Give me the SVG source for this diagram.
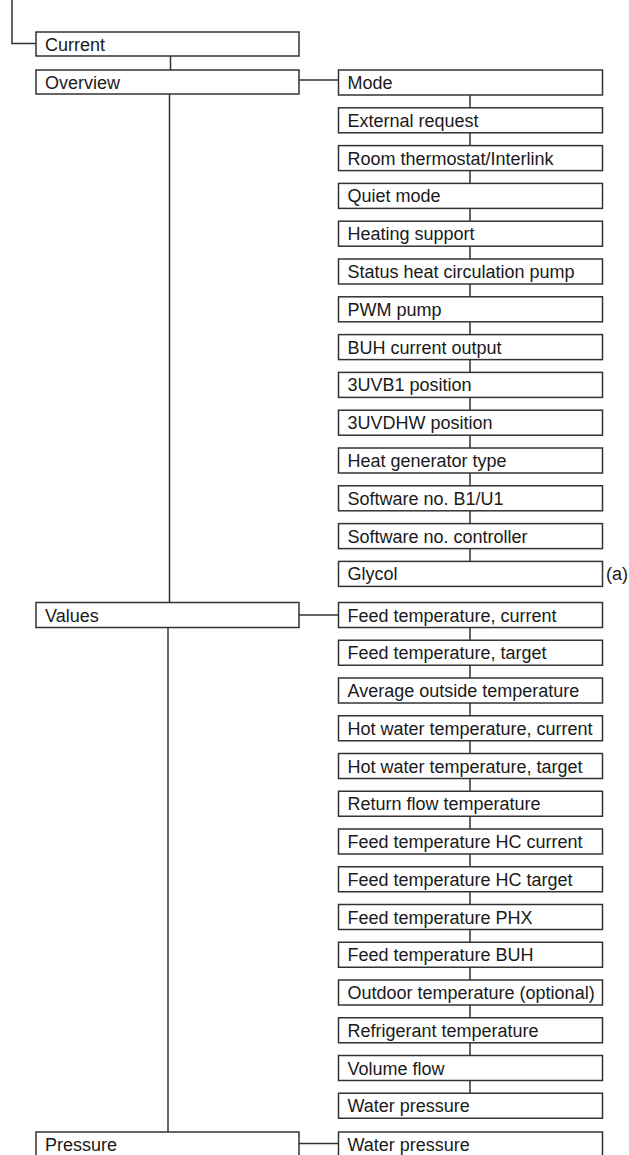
<svg xmlns="http://www.w3.org/2000/svg" width="629" height="1155" viewBox="0 0 629 1155">
<style>
.b{fill:#fff;stroke:#333;stroke-width:1.5}
.t{font-family:"Liberation Sans",Arial,sans-serif;font-size:18px;fill:#1a1a1a}
.c{fill:none;stroke:#333;stroke-width:1.5}
</style>
<rect width="629" height="1155" fill="#fff"/>
<g id="connectors">
<path class="c" d="M12,0V43.5H36"/>
<path class="c" d="M170.5,56V70"/>
<path class="c" d="M169.5,94V602.5"/>
<path class="c" d="M168,627.5V1132"/>
<path class="c" d="M299,80H338.5"/>
<path class="c" d="M299,615H338.5"/>
<path class="c" d="M299,1143.5H338.5"/>
<path class="c" d="M470,95V107.8M470,132.8V145.6M470,170.6V183.4M470,208.4V221.2M470,246.2V259M470,284V296.8M470,321.8V334.6M470,359.6V372.4M470,397.4V410.2M470,435.2V448M470,473V485.8M470,510.8V523.6M470,548.6V561.4"/>
<path class="c" d="M470,627.5V640.25M470,665.25V678M470,703V715.75M470,740.75V753.5M470,778.5V791.25M470,816.25V829M470,854V866.75M470,891.75V904.5M470,929.5V942.25M470,967.25V980M470,1005V1017.75M470,1042.75V1055.5M470,1080.5V1093.25"/>
</g>
<g id="n-current"><rect class="b" x="36" y="32" width="263" height="24"/><text class="t" x="45" y="50.5">Current</text></g>
<g id="n-overview"><rect class="b" x="36" y="70" width="263" height="24"/><text class="t" x="45" y="88.5">Overview</text></g>
<g id="n-values"><rect class="b" x="36" y="602.5" width="263" height="25"/><text class="t" x="45" y="621.5">Values</text></g>
<g id="n-pressure"><rect class="b" x="36" y="1132" width="263" height="25"/><text class="t" x="45" y="1151">Pressure</text></g>
<g id="n-mode"><rect class="b" x="338.5" y="70" width="264" height="25"/><text class="t" x="347.5" y="89">Mode</text></g>
<g id="n-ext"><rect class="b" x="338.5" y="107.8" width="264" height="25"/><text class="t" x="347.5" y="126.8">External request</text></g>
<g id="n-room"><rect class="b" x="338.5" y="145.6" width="264" height="25"/><text class="t" x="347.5" y="164.6">Room thermostat/Interlink</text></g>
<g id="n-quiet"><rect class="b" x="338.5" y="183.4" width="264" height="25"/><text class="t" x="347.5" y="202.4">Quiet mode</text></g>
<g id="n-heatsup"><rect class="b" x="338.5" y="221.2" width="264" height="25"/><text class="t" x="347.5" y="240.2">Heating support</text></g>
<g id="n-status"><rect class="b" x="338.5" y="259" width="264" height="25"/><text class="t" x="347.5" y="278">Status heat circulation pump</text></g>
<g id="n-pwm"><rect class="b" x="338.5" y="296.8" width="264" height="25"/><text class="t" x="347.5" y="315.8">PWM pump</text></g>
<g id="n-buh"><rect class="b" x="338.5" y="334.6" width="264" height="25"/><text class="t" x="347.5" y="353.6">BUH current output</text></g>
<g id="n-3uvb1"><rect class="b" x="338.5" y="372.4" width="264" height="25"/><text class="t" x="347.5" y="391.4">3UVB1 position</text></g>
<g id="n-3uvdhw"><rect class="b" x="338.5" y="410.2" width="264" height="25"/><text class="t" x="347.5" y="429.2">3UVDHW position</text></g>
<g id="n-heatgen"><rect class="b" x="338.5" y="448" width="264" height="25"/><text class="t" x="347.5" y="467">Heat generator type</text></g>
<g id="n-swb1"><rect class="b" x="338.5" y="485.8" width="264" height="25"/><text class="t" x="347.5" y="504.8">Software no. B1/U1</text></g>
<g id="n-swctrl"><rect class="b" x="338.5" y="523.6" width="264" height="25"/><text class="t" x="347.5" y="542.6">Software no. controller</text></g>
<g id="n-glycol"><rect class="b" x="338.5" y="561.4" width="264" height="25"/><text class="t" x="347.5" y="580.4">Glycol</text><text class="t" x="606" y="580.4">(a)</text></g>
<g id="n-v1"><rect class="b" x="338.5" y="602.5" width="264" height="25"/><text class="t" x="347.5" y="621.5">Feed temperature, current</text></g>
<g id="n-v2"><rect class="b" x="338.5" y="640.25" width="264" height="25"/><text class="t" x="347.5" y="659.25">Feed temperature, target</text></g>
<g id="n-v3"><rect class="b" x="338.5" y="678" width="264" height="25"/><text class="t" x="347.5" y="697">Average outside temperature</text></g>
<g id="n-v4"><rect class="b" x="338.5" y="715.75" width="264" height="25"/><text class="t" x="347.5" y="734.75">Hot water temperature, current</text></g>
<g id="n-v5"><rect class="b" x="338.5" y="753.5" width="264" height="25"/><text class="t" x="347.5" y="772.5">Hot water temperature, target</text></g>
<g id="n-v6"><rect class="b" x="338.5" y="791.25" width="264" height="25"/><text class="t" x="347.5" y="810.25">Return flow temperature</text></g>
<g id="n-v7"><rect class="b" x="338.5" y="829" width="264" height="25"/><text class="t" x="347.5" y="848">Feed temperature HC current</text></g>
<g id="n-v8"><rect class="b" x="338.5" y="866.75" width="264" height="25"/><text class="t" x="347.5" y="885.75">Feed temperature HC target</text></g>
<g id="n-v9"><rect class="b" x="338.5" y="904.5" width="264" height="25"/><text class="t" x="347.5" y="923.5">Feed temperature PHX</text></g>
<g id="n-v10"><rect class="b" x="338.5" y="942.25" width="264" height="25"/><text class="t" x="347.5" y="961.25">Feed temperature BUH</text></g>
<g id="n-v11"><rect class="b" x="338.5" y="980" width="264" height="25"/><text class="t" x="347.5" y="999">Outdoor temperature (optional)</text></g>
<g id="n-v12"><rect class="b" x="338.5" y="1017.75" width="264" height="25"/><text class="t" x="347.5" y="1036.75">Refrigerant temperature</text></g>
<g id="n-v13"><rect class="b" x="338.5" y="1055.5" width="264" height="25"/><text class="t" x="347.5" y="1074.5">Volume flow</text></g>
<g id="n-v14"><rect class="b" x="338.5" y="1093.25" width="264" height="25"/><text class="t" x="347.5" y="1112.25">Water pressure</text></g>
<g id="n-p1"><rect class="b" x="338.5" y="1132" width="264" height="25"/><text class="t" x="347.5" y="1151">Water pressure</text></g>
</svg>
